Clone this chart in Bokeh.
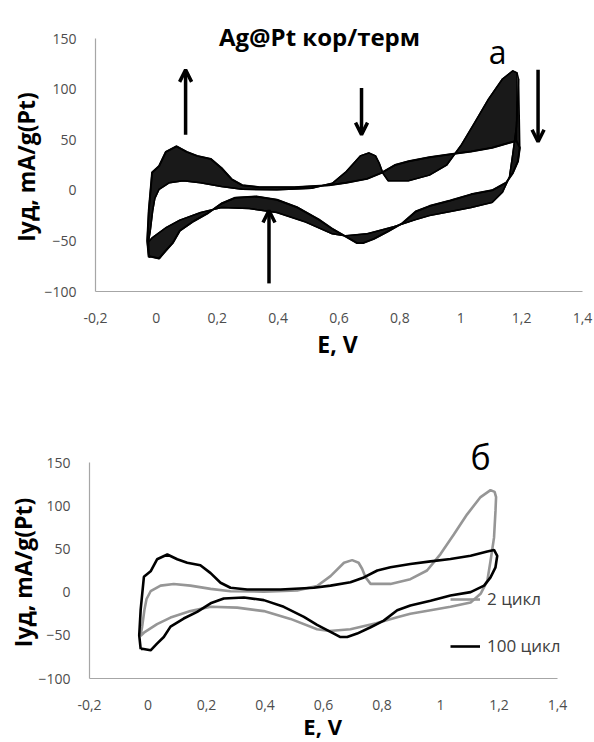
from bokeh.plotting import figure
from bokeh.layouts import column
from bokeh.models import (Range1d, FixedTicker, CustomJSTickFormatter, Label,
                          Arrow, OpenHead, ColumnDataSource)
from bokeh.embed import file_html
from bokeh.resources import INLINE

# ---------------- data ----------------
# cycle 2: anodic branch (E increasing) and cathodic branch (E decreasing)
e_c2_anodic = [-0.026, -0.02, -0.012, -0.005, 0.009, 0.043, 0.088, 0.145, 0.214, 0.282,
               0.396, 0.51, 0.578, 0.624, 0.67, 0.698, 0.72, 0.732, 0.744, 0.761,
               0.829, 0.897, 0.954, 1.0, 1.046, 1.091, 1.137, 1.171, 1.185]
i_c2_anodic = [-51, -40, -20, -8, 1, 7.5, 9.4, 7.5, 3.7, 1,
               0.5, 2, 7, 18.5, 34, 37, 34, 27, 17, 9.5,
               9.5, 15, 25, 44, 67, 90, 110, 118, 116]
e_c2_cathodic = [1.19, 1.188, 1.183, 1.171, 1.16, 1.137, 1.103, 1.034, 0.966, 0.897,
                 0.852, 0.78, 0.692, 0.62, 0.578, 0.487, 0.396, 0.305, 0.214, 0.145,
                 0.077, 0.031, -0.014, -0.026]
i_c2_cathodic = [110, 94, 63, 36, 13, -2, -12, -17, -21, -25,
                 -29, -36, -43, -45, -43, -31, -22, -18, -17, -22,
                 -29.5, -37, -47, -51]

# cycle 100
e_c100_anodic = [-0.025, -0.03, -0.025, -0.014, 0.009, 0.031, 0.066, 0.1, 0.134, 0.179,
                 0.214, 0.248, 0.282, 0.339, 0.453, 0.567, 0.624, 0.692, 0.738, 0.784,
                 0.829, 0.897, 0.966, 1.034, 1.103, 1.16, 1.183]
i_c100_anodic = [-66, -50, -20, 17.7, 24, 38, 43.5, 38, 34, 31,
                 22, 10.8, 5, 3, 3, 5, 7.5, 11.3, 17, 25,
                 28.7, 32.6, 35.6, 38.3, 42, 47, 48.8]
e_c100_cathodic = [1.194, 1.188, 1.171, 1.149, 1.103, 1.034, 0.966, 0.897, 0.852, 0.806,
                   0.761, 0.715, 0.681, 0.658, 0.624, 0.578, 0.533, 0.464, 0.396, 0.328,
                   0.259, 0.214, 0.168, 0.122, 0.077, 0.054, 0.03, 0.009, -0.02, -0.025]
i_c100_cathodic = [42, 28.7, 17, 7.5, 0, -4, -10, -15.6, -21, -33,
                   -40.7, -48, -52, -52, -46, -38, -28.7, -17, -9.3, -6.2,
                   -7.4, -13, -22.9, -30.6, -40, -52, -60, -67.4, -65.5, -66]

x_ticks = [-0.2, 0, 0.2, 0.4, 0.6, 0.8, 1, 1.2, 1.4]
y_ticks = [-100, -50, 0, 50, 100, 150]
series_labels = ["2 цикл", "100 цикл"]

# direction arrows of panel a (start -> end)
arrow_x0 = [0.096, 0.674, 1.254, 0.37]
arrow_y0 = [55, 101, 119, -92]
arrow_x1 = [0.096, 0.674, 1.254, 0.37]
arrow_y1 = [119, 55, 48, -20]

X_MIN, X_MAX = -0.2, 1.4
Y_MIN, Y_MAX = -100, 150

FONT = "Open Sans"
TICK_COLOR = "#4d4d4d"
AXIS_COLOR = "#a6a6a6"
GRAY = "#969696"

fmt = CustomJSTickFormatter(code="return String(Math.round(tick*10)/10).replace('.', ',');")


def make_fig(w, h, left, right, top, bottom):
    """Figure whose frame is the whole canvas; the visible axes box spans
    pixels left..right, top..bottom."""
    kx = (right - left) / (X_MAX - X_MIN)
    ky = (bottom - top) / (Y_MAX - Y_MIN)
    xr = Range1d(X_MIN - left / kx, X_MAX + (w - right) / kx)
    yr = Range1d(Y_MIN - (h - bottom) / ky, Y_MAX + top / ky)
    p = figure(width=w, height=h, output_backend="svg", toolbar_location=None,
               x_range=xr, y_range=yr, min_border=0)
    p.xaxis.fixed_location = Y_MIN
    p.yaxis.fixed_location = X_MIN
    p.xaxis.bounds = (X_MIN, X_MAX)
    p.yaxis.bounds = (Y_MIN, Y_MAX)
    p.xaxis.ticker = FixedTicker(ticks=x_ticks)
    p.yaxis.ticker = FixedTicker(ticks=y_ticks)
    p.xaxis.formatter = fmt
    for ax in (p.xaxis[0], p.yaxis[0]):
        ax.axis_line_color = AXIS_COLOR
        ax.axis_line_width = 1.2
        ax.major_tick_line_color = None
        ax.minor_tick_line_color = None
        ax.major_label_text_font = FONT
        ax.major_label_text_font_size = "14px"
        ax.major_label_text_color = TICK_COLOR
    p.xaxis.major_label_standoff = 15
    p.yaxis.major_label_standoff = 13
    p.xgrid.visible = False
    p.ygrid.visible = False
    p.outline_line_color = None
    p.background_fill_color = "white"
    p.border_fill_color = "white"
    return p


def add_text(p, x, y, text, size, bold=True, angle=0.0, baseline="middle"):
    p.add_layout(Label(x=x, y=y, text=text, text_font=FONT, text_font_size=size,
                       text_font_style="bold" if bold else "normal",
                       text_color="black", angle=angle, text_align="center",
                       text_baseline=baseline))


# ---------------- panel a ----------------
p1 = make_fig(594, 372, 95, 582, 38, 291)

band_an_x = e_c100_anodic + e_c2_anodic[::-1]
band_an_y = i_c100_anodic + i_c2_anodic[::-1]
band_ca_x = e_c100_cathodic + e_c2_cathodic[::-1]
band_ca_y = i_c100_cathodic + i_c2_cathodic[::-1]
p1.patch(band_an_x, band_an_y, fill_color="black", fill_alpha=0.9, line_color="black",
         line_width=1.5)
p1.patch(band_ca_x, band_ca_y, fill_color="black", fill_alpha=0.9, line_color="black",
         line_width=1.5)
p1.line(e_c2_anodic + e_c2_cathodic, i_c2_anodic + i_c2_cathodic, line_color="black",
        line_width=1.4)
p1.line(e_c100_anodic + e_c100_cathodic, i_c100_anodic + i_c100_cathodic,
        line_color="black", line_width=2)

arrow_src = ColumnDataSource(dict(x0=arrow_x0, y0=arrow_y0, x1=arrow_x1, y1=arrow_y1))
p1.add_layout(Arrow(source=arrow_src, x_start="x0", y_start="y0", x_end="x1", y_end="y1",
                    line_width=3.5, line_color="black",
                    end=OpenHead(size=12, line_width=3.5, line_color="black")))

add_text(p1, 0.536, 152.3, "Ag@Pt кор/терм", "24px")
add_text(p1, 1.121, 137, "а", "32px", bold=False, baseline="alphabetic")
add_text(p1, -0.427, 23, "Iуд, mA/g(Pt)", "23px", angle=1.5707963)
add_text(p1, 0.595, -151.4, "E, V", "23px")

# ---------------- panel б ----------------
p2 = make_fig(594, 370, 89, 557, 90, 306)

p2.line(e_c2_anodic + e_c2_cathodic, i_c2_anodic + i_c2_cathodic, line_color=GRAY,
        line_width=2.6, legend_label=series_labels[0])
p2.line(e_c100_anodic + e_c100_cathodic, i_c100_anodic + i_c100_cathodic,
        line_color="black", line_width=2.6, legend_label=series_labels[1])

lg = p2.legend[0]
lg.location = (450, 85)
lg.background_fill_alpha = 0
lg.border_line_alpha = 0
lg.padding = 0
lg.margin = 0
lg.spacing = 24
lg.glyph_width = 30
lg.glyph_height = 20
lg.label_height = 20
lg.label_standoff = 7
lg.label_text_font = FONT
lg.label_text_font_size = "17px"
lg.label_text_color = "#404040"

add_text(p2, 1.137, 156, "б", "34px", bold=False, baseline="alphabetic")
add_text(p2, -0.429, 22.7, "Iуд, mA/g(Pt)", "23px", angle=1.5707963)
add_text(p2, 0.597, -155.5, "E, V", "22px")

layout = column(p1, p2, spacing=0)
open("out.html", "w").write(file_html(layout, INLINE))
